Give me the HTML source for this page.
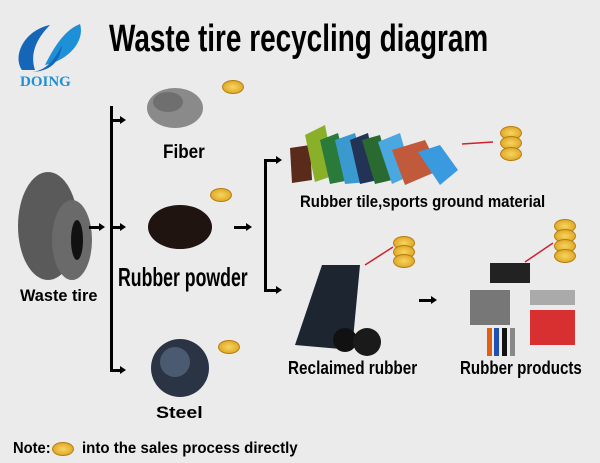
<!DOCTYPE html>
<html><head><style>
body{margin:0;width:600px;height:463px;background:#ebebeb;position:relative;overflow:hidden;font-family:"Liberation Sans",sans-serif;}
.t{position:absolute;font-weight:bold;color:#000;white-space:nowrap;transform-origin:0 0;}
.a{position:absolute;background:#000;}
.h{position:absolute;width:0;height:0;border-top:4px solid transparent;border-bottom:4px solid transparent;border-left:6px solid #000;}
.coin{position:absolute;width:20px;height:12px;border-radius:50%;background:radial-gradient(#f7d560,#d79a14);border:1px solid #b87d10;}
svg{position:absolute;left:0;top:0}
</style></head><body>
<svg width="600" height="463">
<path d="M22 70 C12 55,25 30,50 25 C35 40,30 55,35 70 Z" fill="#1565b8"/>
<path d="M45 65 C55 45,65 30,80 24 C85 40,70 60,45 65 Z" fill="#1e90d8"/>
<path d="M30 72 C45 72,55 60,62 45 C60 62,50 72,30 72 Z" fill="#1565b8"/>
<ellipse cx="175" cy="108" rx="28" ry="20" fill="#8a8a8a"/>
<ellipse cx="168" cy="102" rx="15" ry="10" fill="#6f6f6f"/>
<ellipse cx="48" cy="226" rx="30" ry="54" fill="#5a5a5a"/>
<ellipse cx="72" cy="240" rx="20" ry="40" fill="#6a6a6a"/>
<ellipse cx="77" cy="240" rx="6" ry="20" fill="#111"/>
<ellipse cx="180" cy="227" rx="32" ry="22" fill="#1f1410"/>
<circle cx="180" cy="368" r="29" fill="#2a3445"/>
<circle cx="175" cy="362" r="15" fill="#4a5a70"/>
<polygon points="290,148 310,145 312,180 292,183" fill="#5a2a1a"/>
<polygon points="305,135 325,125 335,175 315,182" fill="#8ab02a"/>
<polygon points="320,140 338,133 350,180 330,184" fill="#2a7a3a"/>
<polygon points="335,140 355,133 368,182 345,184" fill="#3a9ad0"/>
<polygon points="350,140 368,133 378,180 360,184" fill="#223355"/>
<polygon points="362,140 380,135 392,180 375,184" fill="#2a6a30"/>
<polygon points="378,142 400,133 412,175 392,184" fill="#4aa8e0"/>
<polygon points="392,150 425,140 440,170 405,185" fill="#c05a3a"/>
<polygon points="418,152 440,145 458,170 440,185" fill="#3a9ae0"/>
<line x1="462" y1="144" x2="493" y2="142" stroke="#d02030" stroke-width="1.5"/>
<polygon points="322,265 360,265 352,350 295,345" fill="#1c2530"/>
<ellipse cx="345" cy="340" rx="12" ry="12" fill="#111"/>
<ellipse cx="367" cy="342" rx="14" ry="14" fill="#1a1a1a"/>
<line x1="365" y1="265" x2="393" y2="247" stroke="#d02030" stroke-width="1.5"/>
<rect x="490" y="263" width="40" height="20" fill="#222"/>
<rect x="470" y="290" width="40" height="35" fill="#777"/>
<rect x="530" y="290" width="45" height="15" fill="#aaa"/>
<rect x="530" y="310" width="45" height="35" fill="#d83030"/>
<rect x="487" y="328" width="5" height="28" fill="#e06010"/>
<rect x="494" y="328" width="5" height="28" fill="#2050b0"/>
<rect x="502" y="328" width="5" height="28" fill="#111"/>
<rect x="510" y="328" width="5" height="28" fill="#888"/>
<line x1="525" y1="262" x2="553" y2="243" stroke="#d02030" stroke-width="1.5"/>
</svg>
<div class="t" style="left:109px;top:18px;font-size:38px;font-weight:900;transform:scaleX(0.735)">Waste tire recycling diagram</div>
<div class="t" style="left:20px;top:74px;font-size:15px;font-family:'Liberation Serif',serif;color:#1e90d8">DOING</div>

<div class="a" style="left:110px;top:106px;width:3px;height:265px"></div>
<div class="a" style="left:110px;top:119px;width:10px;height:3px"></div><div class="h" style="left:120px;top:116px"></div>
<div class="a" style="left:110px;top:226px;width:10px;height:3px"></div><div class="h" style="left:120px;top:223px"></div>
<div class="a" style="left:110px;top:369px;width:10px;height:3px"></div><div class="h" style="left:120px;top:366px"></div>
<div class="a" style="left:89px;top:226px;width:10px;height:3px"></div><div class="h" style="left:99px;top:223px"></div>
<div class="a" style="left:234px;top:226px;width:12px;height:3px"></div><div class="h" style="left:246px;top:223px"></div>
<div class="a" style="left:264px;top:159px;width:3px;height:133px"></div>
<div class="a" style="left:264px;top:159px;width:12px;height:3px"></div><div class="h" style="left:276px;top:156px"></div>
<div class="a" style="left:264px;top:289px;width:12px;height:3px"></div><div class="h" style="left:276px;top:286px"></div>
<div class="a" style="left:419px;top:299px;width:12px;height:3px"></div><div class="h" style="left:431px;top:296px"></div>

<div class="coin" style="left:222px;top:80px"></div>
<div class="coin" style="left:210px;top:188px"></div>
<div class="coin" style="left:218px;top:340px"></div>
<div class="coin" style="left:500px;top:126px"></div><div class="coin" style="left:500px;top:136px"></div><div class="coin" style="left:500px;top:147px"></div>
<div class="coin" style="left:393px;top:236px"></div><div class="coin" style="left:393px;top:245px"></div><div class="coin" style="left:393px;top:254px"></div>
<div class="coin" style="left:554px;top:219px"></div><div class="coin" style="left:554px;top:229px"></div><div class="coin" style="left:554px;top:239px"></div><div class="coin" style="left:554px;top:249px"></div>
<div class="coin" style="left:52px;top:442px"></div>

<div class="t" style="left:163px;top:142px;font-size:19px;transform:scaleX(0.9)">Fiber</div>
<div class="t" style="left:118px;top:262px;font-size:26px;transform:scaleX(0.68)">Rubber powder</div>
<div class="t" style="left:20px;top:286px;font-size:17px;transform:scaleX(0.96)">Waste tire</div>
<div class="t" style="left:156px;top:403px;font-size:17px;transform:scaleX(1.15)">Steel</div>
<div class="t" style="left:300px;top:192px;font-size:17px;transform:scaleX(0.88)">Rubber tile,sports ground material</div>
<div class="t" style="left:288px;top:358px;font-size:18px;transform:scaleX(0.85)">Reclaimed rubber</div>
<div class="t" style="left:460px;top:358px;font-size:18px;transform:scaleX(0.84)">Rubber products</div>
<div class="t" style="left:13px;top:440px;font-size:16px;transform:scaleX(0.92)">Note:</div>
<div class="t" style="left:82px;top:440px;font-size:16px;transform:scaleX(0.94)">into the sales process directly</div>
</body></html>
